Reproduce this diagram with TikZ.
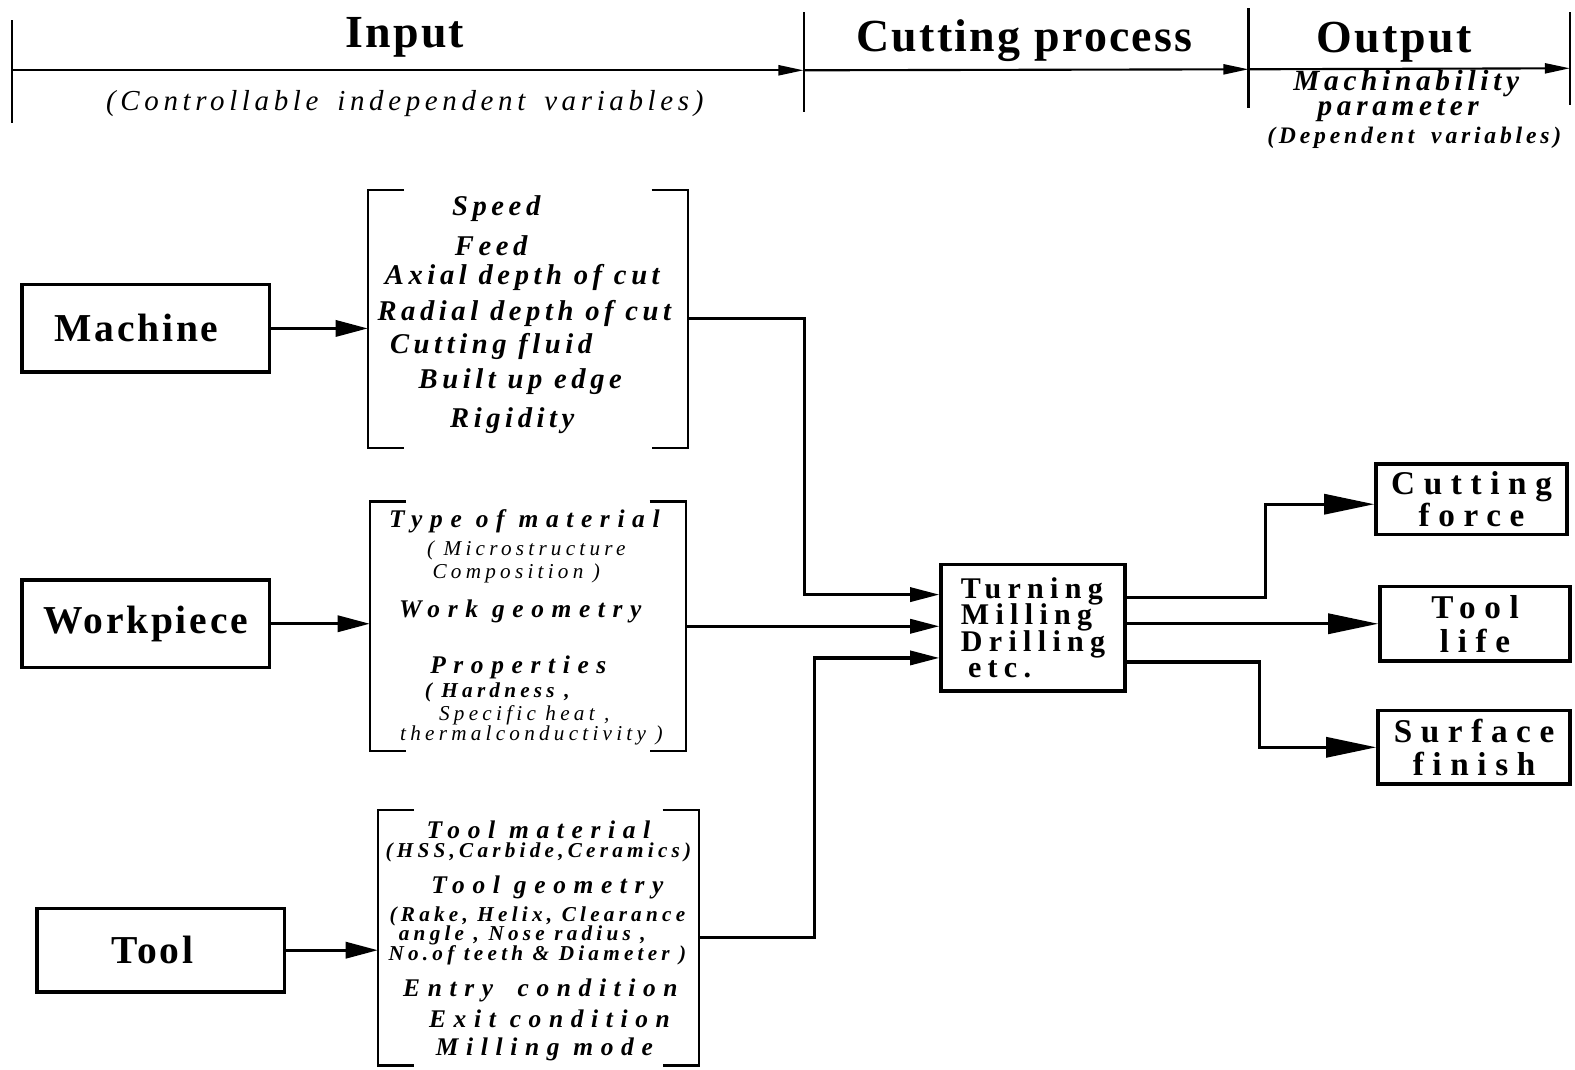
\documentclass[tikz,border=0pt]{standalone}
\usepackage{fontspec}
\setmainfont{Liberation Serif}
\newfontfamily\trkHd[LetterSpace=5]{Liberation Serif}
\newfontfamily\trkBox[LetterSpace=7]{Liberation Serif}
\newfontfamily\trkItem[LetterSpace=16]{Liberation Serif}
\newfontfamily\trkProc[LetterSpace=21]{Liberation Serif}
\newfontfamily\trkNote[LetterSpace=20]{Liberation Serif}
\newfontfamily\trkOut[LetterSpace=26]{Liberation Serif}
\newfontfamily\trkWide[LetterSpace=30]{Liberation Serif}
\newcommand\tightskip{\lineskiplimit=-20pt\relax}
\usetikzlibrary{arrows.meta, positioning, calc}

\tikzset{
  hdtext/.style={font=\trkHd\bfseries\fontsize{13}{15}\selectfont, inner sep=0},
  subtext/.style={font=\trkItem\itshape\fontsize{8.2}{10}\selectfont, inner sep=0},
  param/.style={font=\trkItem\bfseries\itshape\fontsize{8.3}{9}\selectfont, inner sep=0},
  depvar/.style={font=\trkItem\bfseries\itshape\fontsize{6.7}{8}\selectfont, inner sep=0},
  hdline/.style={line width=0.6pt},
  inbox/.style={draw, line width=1pt, minimum width=2.46cm, minimum height=0.87cm,
    font=\trkBox\bfseries\fontsize{11.2}{13}\selectfont},
  brk/.style={draw=none, inner sep=0},
  brkline/.style={line width=0.7pt},
  item/.style={font=\trkItem\bfseries\itshape\fontsize{8.1}{10}\selectfont, inner sep=0},
  itemw/.style={font=\trkWide\bfseries\itshape\fontsize{7.2}{9}\selectfont, inner sep=0},
  note/.style={font=\trkNote\itshape\fontsize{6}{7}\selectfont, inner sep=0},
  notebf/.style={font=\trkNote\bfseries\itshape\fontsize{6}{7}\selectfont, inner sep=0},
  procbox/.style={draw, line width=1pt, minimum width=1.83cm, minimum height=1.26cm,
    align=left, inner sep=0,
    font=\trkProc\bfseries\fontsize{8.5}{7.4}\selectfont\tightskip},
  outbox/.style={draw, line width=1pt, minimum width=1.9cm, minimum height=0.7cm,
    align=center, inner sep=0,
    font=\trkOut\bfseries\fontsize{9.4}{9.2}\selectfont\tightskip},
  conn/.style={line width=0.9pt, -{Triangle[length=0.32cm, width=0.16cm]}},
  link/.style={line width=0.9pt, -{Triangle[length=0.29cm, width=0.14cm]}},
  outlink/.style={line width=0.9pt, -{Triangle[length=0.5cm, width=0.2cm]}},
}

\begin{document}
\begin{tikzpicture}[x=0.01cm, y=-0.01cm]
  \useasboundingbox (0,0) rectangle (1568,1065);

  % header band
  \coordinate (t0) at (12,70);
  \coordinate (t1) at (800,70);
  \coordinate (t2) at (1243,69);
  \coordinate (t3) at (1563,68);
  \draw[hdline, -{Triangle[length=0.25cm, width=0.1cm]}] (t0) -- (t1);
  \draw[hdline, -{Triangle[length=0.25cm, width=0.1cm]}] (t1) -- (t2);
  \draw[hdline, -{Triangle[length=0.25cm, width=0.1cm]}] (t2) -- (t3);
  \foreach \x/\a/\b in {12/20/122, 800/12/112, 1243/8/108, 1563/12/105}
    \draw[hdline] (\x,\a) -- (\x,\b);
  \node[hdtext] (input) at (403,37) {Input};
  \node[hdtext] (cutproc) at (1020,40) {Cutting process};
  \node[hdtext] (output) at (1388,42) {Output};
  \node[subtext] (ctrl) at (403,103) {(Controllable\hspace{2pt} independent\hspace{2pt} variables)};
  \node[param] (machin) at (1400,83) {Machinability};
  \node[param] (paramtr) at (1392,110) {parameter};
  \node[depvar] (depvar) at (1408,137) {(Dependent\hspace{2pt} variables)};

  % input sources
  \node[inbox] (machine) at (145,327) {Machine\hspace*{0.18cm}};
  \node[inbox] (workpiece) at (145,621) {Workpiece};
  \node[inbox, minimum height=0.83cm] (tool) at (160,946) {Tool\hspace*{0.16cm}};

  % variable groups in brackets
  \node[brk, minimum width=3.17cm, minimum height=2.55cm] (vars1) at (525.5,317.5) {};
  \node[brk, minimum width=3.13cm, minimum height=2.47cm] (vars2) at (525.5,623.5) {};
  \node[brk, minimum width=3.18cm, minimum height=2.53cm] (vars3) at (536,933.5) {};
  \foreach \b in {vars1,vars2,vars3} {
    \draw[brkline] (\b.north west) ++(36,0) -- (\b.north west) -- (\b.south west) -- ++(36,0);
    \draw[brkline] (\b.north east) ++(-36,0) -- (\b.north east) -- (\b.south east) -- ++(-36,0);
  }
  \foreach \t/\x/\y/\s [count=\i] in {{Speed}/494/208/item, {Feed}/489/245/item,
      {Axial depth of cut}/520/276/item, {Radial depth of cut}/522/312/item,
      {Cutting fluid}/489/345/item, {Built up edge}/518/380/item, {Rigidity}/510/419/item}
    \node[\s] (m\i) at (\x,\y) {\t};
  \foreach \t/\x/\y/\s [count=\i] in {{Type of material}/522/519/itemw,
      {( Microstructure}/524/548/note, {Composition )}/514/571/note,
      {Work geometry}/518/609/itemw, {Properties}/516/664/itemw,
      {( Hardness ,}/495/689/notebf, {Specific heat ,}/522/712/note,
      {thermalconductivity )}/529/732/note}
    \node[\s] (w\i) at (\x,\y) {\t};
  \foreach \t/\x/\y/\s [count=\i] in {{Tool material}/536/826/itemw,
      {(HSS,Carbide,Ceramics)}/536/849/notebf, {Tool geometry}/545/883/itemw,
      {(Rake, Helix, Clearance}/535/912/notebf, {angle , Nose radius ,}/520/931/notebf,
      {No.of teeth \& Diameter )}/535/951/notebf,
      {Entry\hspace{3pt} condition}/538/986/itemw, {Exit condition}/547/1014/itemw,
      {Milling mode}/542/1045/itemw}
    \node[\s] (c\i) at (\x,\y) {\t};

  \draw[conn] (machine.east) -- (machine.east -| vars1.west);
  \draw[conn] (workpiece.east) -- (workpiece.east -| vars2.west);
  \draw[conn] (tool.east) -- (tool.east -| vars3.west);

  % cutting process
  \node[procbox] (proc) at (1028.5,625) {Turning\\Milling\\Drilling\\\hspace*{0.07cm}etc.};
  \draw[link] (vars1.east) -- ++(116,0) |- ([yshift=0.33cm]proc.west);
  \draw[link] (vars2.east) -- (vars2.east -| proc.west);
  \draw[link] (vars3.east) -- ++(115,0) |- ([yshift=-0.30cm]proc.west);

  % machinability outputs
  \node[outbox] (force) at (1465,497) {Cutting\\force};
  \node[outbox, minimum width=1.89cm, minimum height=0.74cm,
    font=\trkOut\bfseries\fontsize{9.4}{9.6}\selectfont\tightskip] (life) at (1468.5,621) {Tool\\life};
  \node[outbox, minimum width=1.91cm, minimum height=0.73cm] (finish) at (1467.5,744) {Surface\\finish};
  \draw[outlink] ([yshift=0.30cm]proc.east) -- ++(138,0) |- ([yshift=-0.05cm]force.west);
  \draw[outlink] (proc.east |- life.west) -- (life.west);
  \draw[outlink] ([yshift=-0.34cm]proc.east) -- ++(132,0) |- (finish.west);
\end{tikzpicture}
\end{document}
